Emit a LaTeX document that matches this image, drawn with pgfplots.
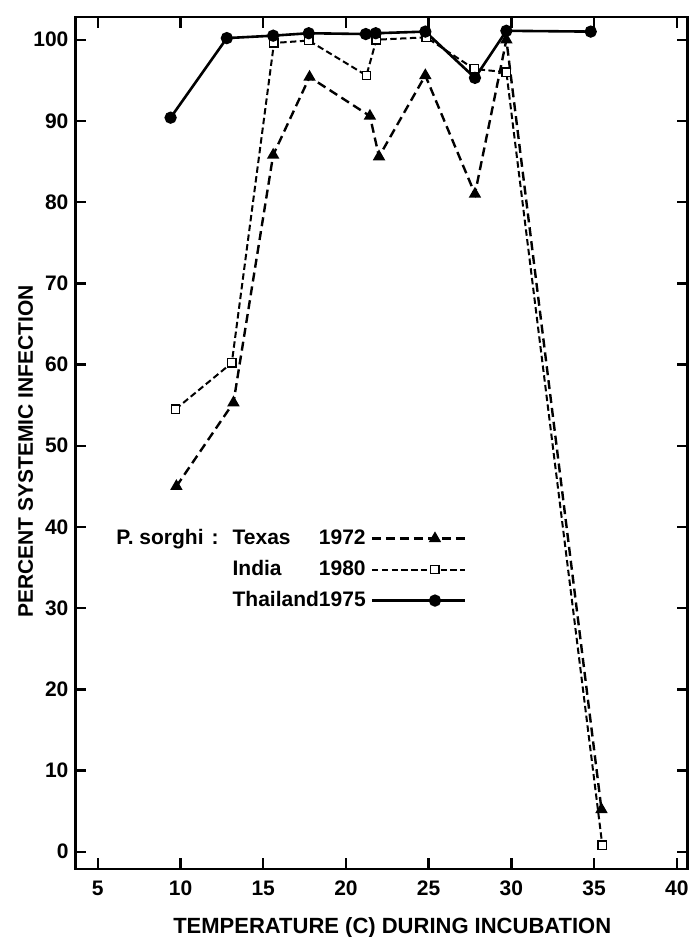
\documentclass[border=0pt]{standalone}
\usepackage{fontspec}
\setmainfont{Liberation Sans}
\usepackage{pgfplots}
\pgfplotsset{compat=1.18}
\usetikzlibrary{calc}
\newcommand{\lf}{\fontsize{10.5}{12.6}\selectfont\bfseries}
\begin{document}
\begin{tikzpicture}
\begin{axis}[
  name=ax,
  scale only axis, width=306pt, height=426pt,
  xmin=3.65, xmax=40.65, ymin=-2.13, ymax=102.8,
  xtick={5,10,...,40}, ytick={0,10,...,100},
  axis line style={line width=1.4pt},
  tick style={line width=1.2pt, black},
  major tick length=5.5pt,
  /pgf/number format/assume math mode=true,
  tick label style={font=\lf},
  xticklabel style={yshift=-2.25pt},
  xlabel={TEMPERATURE (C) DURING INCUBATION},
  xlabel style={at={(rel axis cs:0.5176,0)}, anchor=base, yshift=-32pt, font=\fontsize{11}{13}\selectfont\bfseries},
  ylabel={PERCENT SYSTEMIC INFECTION},
  ylabel style={at={($(rel axis cs:0,0.49)+(-21.25pt,0)$)}, anchor=base, font=\lf},
  legend style={at={(axis cs:27.3,40.4)}, anchor=north east, draw=none, fill=none,
    inner xsep=0pt, inner ysep=0pt, row sep=1.0pt, column sep=0.5pt, font=\lf,
    nodes={inner sep=2pt, text height=8pt, text depth=2.5pt}},
  legend plot pos=right,
  legend cell align=left,
  legend image code/.code={
    \draw[#1, mark indices={2}] plot coordinates {(0pt,0pt) (31.5pt,0pt) (46.5pt,0pt)};
  },
]
\addplot[black, line width=1.2pt, dash pattern=on 4.5pt off 2.5pt,
  mark=triangle*, mark size=2.4pt, mark options={solid}] coordinates {
  (9.75,45.0) (13.2,55.3) (15.6,85.8) (17.8,95.4) (21.45,90.6) (22.0,85.6)
  (24.8,95.6) (27.8,81.0) (29.7,100.0) (35.45,5.2)
};
\addlegendentry{\llap{P. sorghi\hspace{4pt}:\hspace{7pt}}\rlap{Texas}\hphantom{Thailand}1972}
\addplot[black, line width=1.0pt, dash pattern=on 3.2pt off 1.7pt,
  mark=square*, mark size=2.1pt, mark options={solid, fill=white, line width=0.7pt}] coordinates {
  (9.7,54.5) (13.1,60.2) (15.65,99.6) (17.75,99.9) (21.24,95.6) (21.84,100.0)
  (24.85,100.3) (27.75,96.4) (29.7,96.0) (35.5,0.8)
};
\addlegendentry{\rlap{India}\hphantom{Thailand}1980}
\addplot[black, line width=1.3pt, solid,
  mark=*, mark size=2.4pt] coordinates {
  (9.4,90.4) (12.8,100.2) (15.6,100.5) (17.75,100.8) (21.2,100.7) (21.8,100.8)
  (24.8,101.0) (27.8,95.3) (29.7,101.1) (34.8,101.0)
};
\addlegendentry{Thailand1975}
\end{axis}
\pgfresetboundingbox
\path ($(ax.south west)+(-37.75pt,-34pt)$) rectangle ($(ax.north east)+(1.5pt,8.5pt)$);
\end{tikzpicture}
\end{document}
